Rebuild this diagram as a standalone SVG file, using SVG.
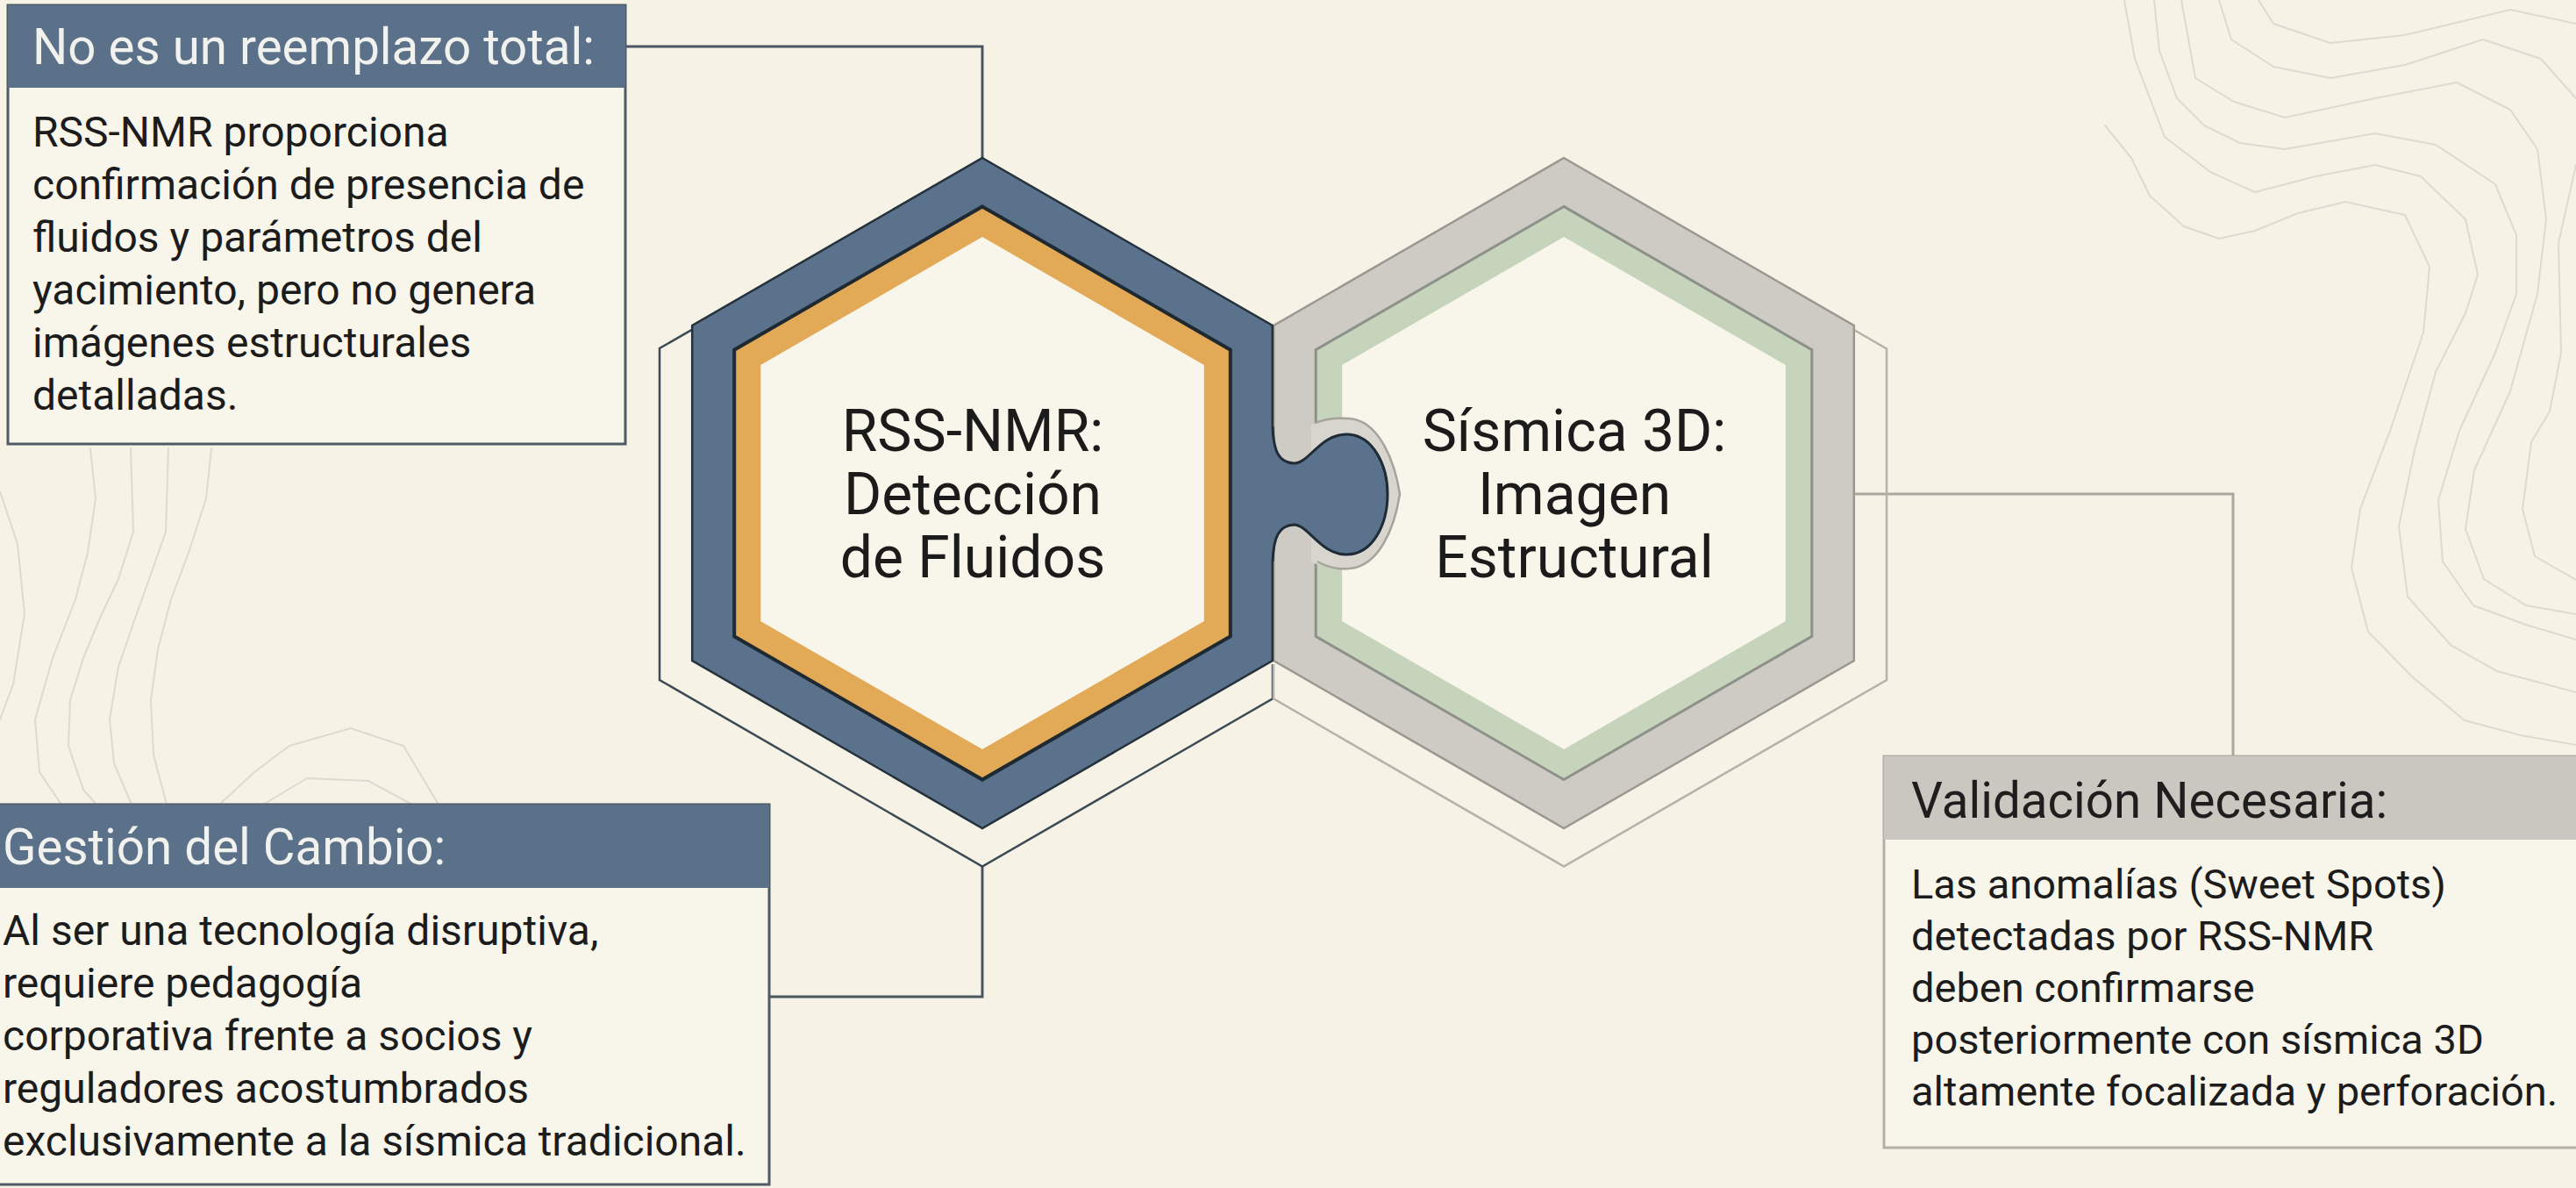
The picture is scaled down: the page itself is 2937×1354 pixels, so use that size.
<svg xmlns="http://www.w3.org/2000/svg" width="2937" height="1354" viewBox="0 0 2937 1354">
<style>
.contour{fill:none;stroke:#dedacf;stroke-width:2;stroke-linejoin:round;stroke-linecap:round}
.hdr{font-family:Roboto,"Liberation Sans",sans-serif;font-size:56.5px;fill:#f1f1ee}
.hdr-dark{font-family:Roboto,"Liberation Sans",sans-serif;font-size:56.5px;fill:#1e1e1e}
.body{font-family:Roboto,"Liberation Sans",sans-serif;font-size:48px;fill:#1c1c1c}
.body2{font-family:Roboto,"Liberation Sans",sans-serif;font-size:47px;fill:#1c1c1c}
.hex-text{font-family:Roboto,"Liberation Sans",sans-serif;font-size:66px;fill:#1b1b1b;text-anchor:middle}
.conn-dark{fill:none;stroke:#4a5660;stroke-width:3}
.conn-light{fill:none;stroke:#aaa79f;stroke-width:3}
</style>
<rect x="0" y="0" width="2937" height="1354" fill="#f6f2e6"/>
<g id="background-contours">
<polyline class="contour" points="2400,143 2430,180 2451,223 2490,258 2530,272 2571,263 2620,243 2674,230 2742,245 2770,304 2763,379 2725,491 2691,580 2681,647 2700,720 2751,772 2810,821 2874,838 2937,849"/>
<polyline class="contour" points="2422,0 2434,67 2468,156 2520,196 2571,219 2640,201 2708,188 2760,201 2811,250 2825,313 2811,357 2777,424 2753,513 2735,600 2745,680 2794,735 2847,765 2937,789"/>
<polyline class="contour" points="2456,0 2462,58 2482,112 2513,143 2554,163 2605,170 2708,152 2777,165 2845,210 2869,268 2869,335 2845,402 2804,491 2780,570 2785,640 2820,690 2880,712 2937,729"/>
<polyline class="contour" points="2487,0 2503,89 2547,116 2605,134 2708,112 2801,94 2862,125 2893,170 2903,250 2893,335 2862,446 2821,536 2811,603 2832,660 2880,690 2937,700"/>
<polyline class="contour" points="2937,188 2917,277 2920,402 2907,469 2886,504 2876,580 2890,634 2937,661"/>
<polyline class="contour" points="2530,0 2544,45 2592,76 2657,89 2742,74 2831,45 2897,67 2937,112"/>
<polyline class="contour" points="2575,0 2592,27 2657,49 2742,40 2862,11 2937,27"/>
<polyline class="contour" points="103,511 109,568 100,630 86,683 60,750 40,820 45,880 70,917"/>
<polyline class="contour" points="149,511 152,606 135,660 115,702 95,750 80,798 78,850 95,900 110,917"/>
<polyline class="contour" points="192,511 189,606 170,660 155,702 135,760 125,820 130,870 150,917"/>
<polyline class="contour" points="241,511 235,568 215,630 195,683 180,740 172,798 175,860 190,917"/>
<polyline class="contour" points="0,560 20,620 28,700 15,780 0,820"/>
<polyline class="contour" points="250,917 290,880 330,850 400,830 460,850 500,917"/>
<polyline class="contour" points="300,917 350,887 420,890 470,917"/>
</g>
<g id="connectors">
<polyline class="conn-dark" points="713,53 1120,53 1120,181"/>
<polyline class="conn-dark" points="1120,987 1120,1136 877,1136"/>
<polyline class="conn-light" points="2114,563 2546,563 2546,862"/>
</g>
<g id="hex-outlines">
<polyline points="800,369.3 752,397 752,775 1120,987.5 1451,796.4 1451,757" fill="none" stroke="#3c4a55" stroke-width="2.5"/>
<polyline points="2100,368 2151,397.5 2151,775 1783,987.5 1452,796.4 1452,757" fill="none" stroke="#b5b2aa" stroke-width="2.5"/>
</g>
<g id="node-hex-sismica">
<polygon points="1783,180 2113.8,371 2113.8,753 1783,944 1452.2,753 1452.2,371" fill="#cecbc5" stroke="#9a9891" stroke-width="2.5"/>
<polygon points="1783,235.4 2065.8,398.7 2065.8,725.3 1783,888.6 1500.2,725.3 1500.2,398.7" fill="#c5d4ba" stroke="#8d9189" stroke-width="3"/>
<polygon points="1783,270.1 2035.8,416 2035.8,708 1783,853.9 1530.2,708 1530.2,416" fill="#f8f5eb"/>
</g>
<g id="node-hex-rss">
<polygon points="1120,180 1450.8,371 1450.8,753 1120,944 789.2,753 789.2,371" fill="#5a728b" stroke="#25313b" stroke-width="2.5"/>
<polygon points="1120,235.4 1402.8,398.7 1402.8,725.3 1120,888.6 837.2,725.3 837.2,398.7" fill="#e2a957" stroke="#1e2931" stroke-width="4"/>
<polygon points="1120,270.1 1372.8,416 1372.8,708 1120,853.9 867.2,708 867.2,416" fill="#f8f5eb"/>
</g>
<g id="puzzle-tab">
<path d="M1495,484 C1510,478 1525,476 1538,477 C1572,479 1590,525 1596,563 C1590,602 1572,646 1538,648 C1525,649 1510,646 1495,641 Z" fill="#d8d5cf"/>
<path d="M1500,482 C1512,477 1525,476 1538,477 C1572,479 1590,525 1596,563 C1590,602 1572,646 1538,648 C1525,649 1512,646 1502,640" fill="none" stroke="#a5a39c" stroke-width="2.5"/>
<path d="M1451,486 C1452,515 1458,527 1475,528 C1492,529 1505,495 1535,495 C1565,495 1582,530 1582,563 C1582,598 1565,632 1535,632 C1505,632 1492,598 1475,598 C1458,599 1452,612 1451,640 L1440,640 L1440,486 Z" fill="#5a728b"/>
<path d="M1451,486 C1452,515 1458,527 1475,528 C1492,529 1505,495 1535,495 C1565,495 1582,530 1582,563 C1582,598 1565,632 1535,632 C1505,632 1492,598 1475,598 C1458,599 1452,612 1451,640" fill="none" stroke="#1f2b35" stroke-width="3"/>
</g>
<g id="hex-labels">
<text class="hex-text" x="1109" y="514">RSS-NMR:</text>
<text class="hex-text" x="1109" y="586">Detección</text>
<text class="hex-text" x="1109" y="658">de Fluidos</text>
<text class="hex-text" x="1795" y="514">Sísmica 3D:</text>
<text class="hex-text" x="1795" y="586">Imagen</text>
<text class="hex-text" x="1795" y="658">Estructural</text>
</g>
<g id="node-box-reemplazo">
<rect x="9" y="6" width="704" height="500" fill="#f8f5eb" stroke="#4f5b64" stroke-width="3"/>
<rect x="9" y="6" width="704" height="94" fill="#5b7189"/>
<text class="hdr" x="37" y="73">No es un reemplazo total:</text>
<text class="body" x="37" y="167">RSS-NMR proporciona</text>
<text class="body" x="37" y="227">confirmación de presencia de</text>
<text class="body" x="37" y="287">fluidos y parámetros del</text>
<text class="body" x="37" y="347">yacimiento, pero no genera</text>
<text class="body" x="37" y="407">imágenes estructurales</text>
<text class="body" x="37" y="467">detalladas.</text>
</g>
<g id="node-box-gestion">
<rect x="-30" y="917" width="907" height="433" fill="#f8f5eb" stroke="#4f5b64" stroke-width="3"/>
<rect x="-30" y="917" width="907" height="95" fill="#5b7189"/>
<text class="hdr" x="3" y="985">Gestión del Cambio:</text>
<text class="body" x="3" y="1077">Al ser una tecnología disruptiva,</text>
<text class="body" x="3" y="1137">requiere pedagogía</text>
<text class="body" x="3" y="1197">corporativa frente a socios y</text>
<text class="body" x="3" y="1257">reguladores acostumbrados</text>
<text class="body" x="3" y="1317">exclusivamente a la sísmica tradicional.</text>
</g>
<g id="node-box-validacion">
<rect x="2148" y="862" width="820" height="446" fill="#f8f5eb" stroke="#b3b0a9" stroke-width="3"/>
<rect x="2148" y="862" width="820" height="95" fill="#cac7c1"/>
<text class="hdr-dark" x="2179" y="932">Validación Necesaria:</text>
<text class="body2" x="2179" y="1024">Las anomalías (Sweet Spots)</text>
<text class="body2" x="2179" y="1083">detectadas por RSS-NMR</text>
<text class="body2" x="2179" y="1142">deben confirmarse</text>
<text class="body2" x="2179" y="1201">posteriormente con sísmica 3D</text>
<text class="body2" x="2179" y="1260">altamente focalizada y perforación.</text>
</g>
</svg>
